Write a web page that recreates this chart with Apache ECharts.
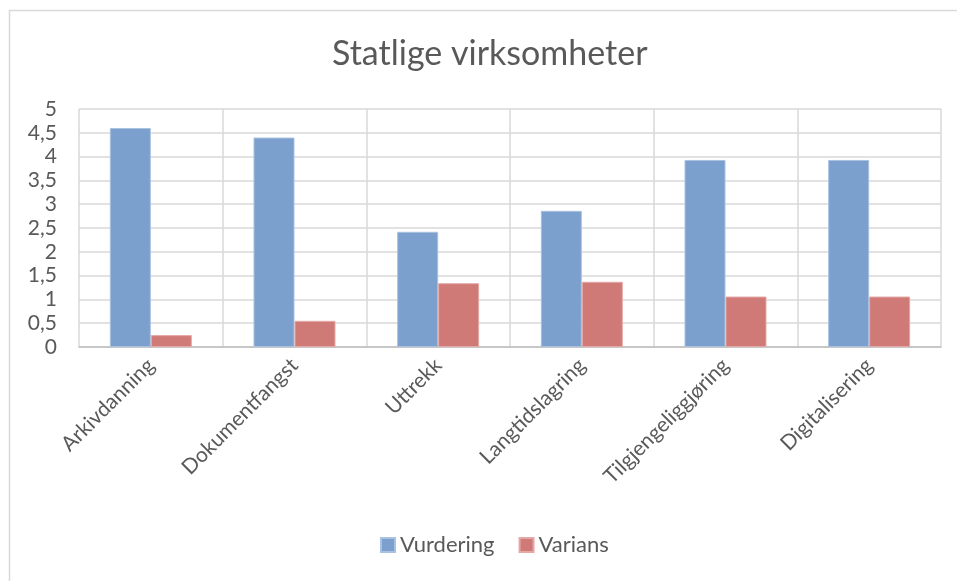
<!DOCTYPE html>
<html>
<head>
<meta charset="utf-8">
<script src="https://cdn.jsdelivr.net/npm/echarts@6/dist/echarts.min.js"></script>
<style>html,body{margin:0;padding:0;background:#fff}#c{width:957px;height:581px}</style>
</head>
<body>
<div id="c"></div>
<script>
const categories = ['Arkivdanning','Dokumentfangst','Uttrekk','Langtidslagring','Tilgjengeliggjøring','Digitalisering'];
const vurdering = [4.6, 4.4, 2.42, 2.86, 3.93, 3.93];
const varians = [0.25, 0.55, 1.34, 1.37, 1.06, 1.06];
const yTicks = {min: 0, max: 5, interval: 0.5};

const chart = echarts.init(document.getElementById('c'));
const font = 'Lato, "Open Sans", sans-serif';
chart.setOption({
  animation: false,
  backgroundColor: '#fff',
  graphic: [{
    type: 'rect', shape: {x: 9.5, y: 10.5, width: 1000, height: 700},
    style: {fill: 'none', stroke: '#d9d9d9', lineWidth: 1.5}, silent: true
  }],
  title: {
    text: 'Statlige virksomheter', left: 327, top: 32,
    textStyle: {fontFamily: font, fontSize: 34, fontWeight: 'normal', color: '#595959'}
  },
  legend: {
    bottom: 20, left: 375, itemWidth: 14, itemHeight: 14, itemGap: 24,
    icon: 'rect',
    textStyle: {fontFamily: font, fontSize: 22, color: '#595959'},
    data: ['Vurdering', 'Varians']
  },
  grid: {left: 79, right: 16, top: 109, bottom: 234},
  xAxis: {
    type: 'category', data: categories,
    axisLine: {lineStyle: {color: '#bfbfbf', width: 1.5}},
    axisTick: {show: false},
    splitLine: {show: true, lineStyle: {color: '#d9d9d9', width: 1.5}},
    axisLabel: {rotate: 45, margin: 15, fontFamily: font, fontSize: 21, color: '#595959', interval: 0}
  },
  yAxis: {
    type: 'value', min: yTicks.min, max: yTicks.max, interval: yTicks.interval,
    axisLine: {show: false}, axisTick: {show: false},
    splitLine: {lineStyle: {color: '#d9d9d9', width: 1.5}},
    axisLabel: {fontFamily: font, fontSize: 21, color: '#595959', margin: 22,
      formatter: v => String(v).replace('.', ',')}
  },
  series: [
    {name: 'Vurdering', type: 'bar', data: vurdering, barWidth: 41, barGap: '0%',
     itemStyle: {color: '#7ba0cd', borderColor: '#a9c1e0', borderWidth: 1}},
    {name: 'Varians', type: 'bar', data: varians, barWidth: 41,
     itemStyle: {color: '#d07a78', borderColor: '#e4a9a7', borderWidth: 1}}
  ]
});
</script>
</body>
</html>
